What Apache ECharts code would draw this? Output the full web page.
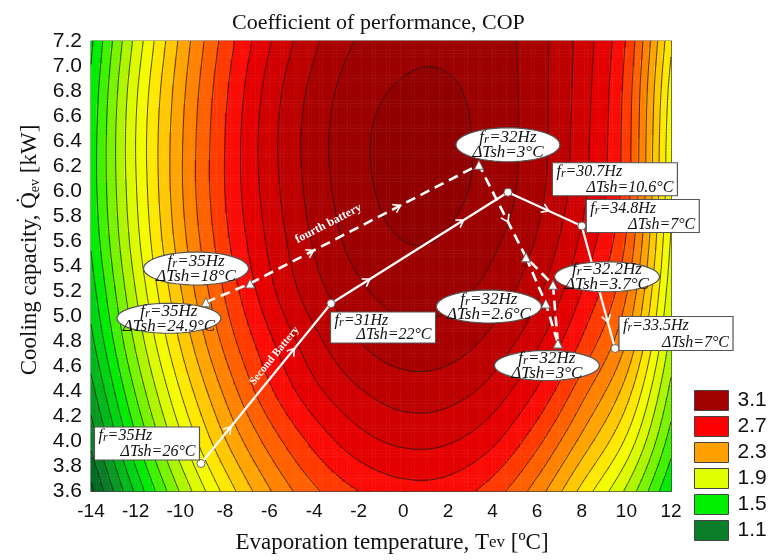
<!DOCTYPE html>
<html><head><meta charset="utf-8">
<script src="https://cdn.jsdelivr.net/npm/echarts@6/dist/echarts.min.js"></script>
<style>html,body{margin:0;padding:0;background:#fff}#c{width:774px;height:560px}</style>
</head><body><div id="c"></div>
<script>
// ---------------- DATA ----------------
// COP surface sampled on a coarse grid: evaporation temperature (°C) x cooling capacity (kW)
var tNodes = [-14,-12,-10,-8,-6,-4,-2,0,2,4,6,8,10,12];
var qNodes = [3.6,4.0,4.4,4.8,5.2,5.6,6.0,6.4,6.8,7.2];
var copQ36 = [0.97,1.42,1.81,2.13,2.39,2.58,2.70,2.76,2.75,2.65,2.45,2.17,1.88,1.50];
var copQ40 = [1.13,1.58,1.97,2.29,2.54,2.73,2.86,2.92,2.91,2.82,2.63,2.37,2.08,1.65];
var copQ44 = [1.26,1.71,2.10,2.42,2.68,2.87,2.99,3.05,3.04,2.96,2.79,2.54,2.25,1.77];
var copQ48 = [1.37,1.82,2.21,2.53,2.78,2.97,3.10,3.16,3.15,3.07,2.92,2.69,2.40,1.87];
var copQ52 = [1.45,1.90,2.29,2.61,2.87,3.06,3.18,3.24,3.23,3.16,3.02,2.80,2.51,1.94];
var copQ56 = [1.51,1.96,2.35,2.67,2.92,3.11,3.24,3.30,3.29,3.22,3.09,2.88,2.59,1.99];
var copQ60 = [1.54,1.99,2.38,2.70,2.95,3.14,3.27,3.33,3.32,3.26,3.13,2.93,2.64,2.02];
var copQ64 = [1.54,2.00,2.38,2.70,2.96,3.15,3.28,3.33,3.33,3.26,3.14,2.94,2.65,2.03];
var copQ68 = [1.52,1.98,2.36,2.68,2.94,3.13,3.26,3.31,3.31,3.26,3.14,2.95,2.66,2.06];
var copQ72 = [1.48,1.93,2.32,2.64,2.89,3.08,3.21,3.27,3.28,3.25,3.14,2.96,2.69,2.12];
var copRows = [copQ36,copQ40,copQ44,copQ48,copQ52,copQ56,copQ60,copQ64,copQ68,copQ72];

var contourLevels = [1.0,1.1,1.2,1.3,1.4,1.5,1.6,1.7,1.8,1.9,2.0,2.1,2.2,2.3,2.4,2.5,2.6,2.7,2.8,2.9,3.0,3.1,3.2,3.3];
var legendLevels = ['3.1','2.7','2.3','1.9','1.5','1.1'];
var xTickLabels = ['-14','-12','-10','-8','-6','-4','-2','0','2','4','6','8','10','12'];
var yTickLabels = ['3.6','3.8','4.0','4.2','4.4','4.6','4.8','5.0','5.2','5.4','5.6','5.8','6.0','6.2','6.4','6.6','6.8','7.0','7.2'];

// Second battery (solid line, circles)
var secondT   = [-9.07, -3.24, 4.69, 8.00, 9.49];
var secondQ   = [3.82, 5.10, 5.99, 5.72, 4.74];
var secondFr  = ['35','31','30.7','34.8','33.5'];
var secondTsh = ['26','22','10.6','7','7'];
// Fourth battery (dashed line, triangles)
var fourthT   = [-8.85, -6.87, 3.39, 5.50, 6.71, 6.39, 6.93];
var fourthQ   = [5.11, 5.26, 6.21, 5.47, 5.25, 5.10, 4.78];
var fourthFr  = ['35','35','32',null,'32.2','32','32'];
var fourthTsh = ['24.9','18','3',null,'3.7','2.6','3'];
var fourthPathA = [0,1,2,3,4,6];
var fourthPathB = [3,5,6];
var batteryNames = ['Second Battery','fourth battery'];

// ---------------- STYLE / LAYOUT ----------------
var legendColors = ['#a00000','#ff0000','#ffa000','#e0ff00','#00ee00','#0a7d28'];
var bandColors = ['#005c1e','#006b22','#0a7d28','#069a22','#02b81a','#00d412','#00ec00','#3ef200','#78f400','#aef600','#dcfa00','#f4fc00','#ffe800','#ffc800','#ffa400','#ff8200','#ff6000','#ff3a00','#fa0c06','#e40000','#d00000','#bc0000','#a80000','#9c0000','#900000'];
var boxLayout = [{dx:-54,dy:-20,w:105,h:33},{dx:52,dy:24,w:105,h:31},{dx:107,dy:-13,w:125,h:33},{dx:61,dy:-10,w:113,h:33},{dx:61,dy:-15,w:114,h:34}];
var ellipseLayout = [{dx:-37,dy:16,w:104,h:30},{dx:-54,dy:-15,w:105,h:33},{dx:29,dy:-20,w:104,h:34},null,{dx:54,dy:-8,w:105,h:30},{dx:-57,dy:3,w:105,h:33},{dx:-11,dy:22,w:105,h:30}];
var solidArrows = [[0,0.22],[0,0.71],[1,0.21],[1,0.74],[2,0.53],[3,0.77]];
var dashedArrows = [[1,0.27],[1,0.65],[2,0.6]];
var nameTags = [{seg:0,frac:0.63,off:11,size:11},{seg:1,frac:0.377,off:17,size:12}];

// ---------------- surface interpolation ----------------
function gv(ix, iy){
  var nx=tNodes.length, ny=qNodes.length;
  if (ix<0) return 2*gv(0,iy)-gv(1,iy);
  if (ix>nx-1) return 2*gv(nx-1,iy)-gv(nx-2,iy);
  if (iy<0) return 2*gv(ix,0)-gv(ix,1);
  if (iy>ny-1) return 2*gv(ix,ny-1)-gv(ix,ny-2);
  return copRows[iy][ix];
}
function cr(p0,p1,p2,p3,t){ return p1+0.5*t*(p2-p0+t*(2*p0-5*p1+4*p2-p3+t*(3*(p1-p2)+p3-p0))); }
function field(T,Q){
  var gx=(T-tNodes[0])/(tNodes[1]-tNodes[0]), gy=(Q-qNodes[0])/(qNodes[1]-qNodes[0]);
  var ix=Math.min(Math.max(Math.floor(gx),0),tNodes.length-2), iy=Math.min(Math.max(Math.floor(gy),0),qNodes.length-2);
  var fx=gx-ix, fy=gy-iy, cols=[];
  for (var m=-1;m<=2;m++) cols.push(cr(gv(ix-1,iy+m),gv(ix,iy+m),gv(ix+1,iy+m),gv(ix+2,iy+m),fx));
  return cr(cols[0],cols[1],cols[2],cols[3],fy);
}
var T0=tNodes[0], T1=tNodes[tNodes.length-1], Q0=qNodes[0], Q1=qNodes[qNodes.length-1];
var NT=208, NQ=144, dT=(T1-T0)/NT, dQ=(Q1-Q0)/NQ;
var catX=[], catY=[], heat=[];
for (var i=0;i<NT;i++) catX.push(String(i));
for (var j=0;j<NQ;j++) catY.push(String(j));
for (j=0;j<NQ;j++) for (i=0;i<NT;i++) heat.push([i,j,field(T0+(i+0.5)*dT, Q0+(j+0.5)*dQ)]);
var nodes=[];
for (j=0;j<=NQ;j++){ var row=[]; for (i=0;i<=NT;i++) row.push(field(T0+i*dT, Q0+j*dQ)); nodes.push(row); }
var segs=[];
contourLevels.forEach(function(L){
  for (var j=0;j<NQ;j++) for (var i=0;i<NT;i++){
    var a=nodes[j][i], b=nodes[j][i+1], c=nodes[j+1][i+1], d=nodes[j+1][i];
    var pts=[];
    function cross(v1,v2,x1,y1,x2,y2){ if((v1>L)!==(v2>L)){ var t=(L-v1)/(v2-v1); pts.push([x1+(x2-x1)*t, y1+(y2-y1)*t]); } }
    var xa=T0+i*dT, xb=T0+(i+1)*dT, ya=Q0+j*dQ, yb=Q0+(j+1)*dQ;
    cross(a,b,xa,ya,xb,ya); cross(b,c,xb,ya,xb,yb); cross(c,d,xb,yb,xa,yb); cross(d,a,xa,yb,xa,ya);
    if (pts.length>=2) segs.push({coords:[pts[0],pts[1]]});
    if (pts.length===4) segs.push({coords:[pts[2],pts[3]]});
  }
});
var pieces=[{lt:1.0,color:bandColors[0]}];
for (var k=0;k<contourLevels.length;k++){
  var p={gte:contourLevels[k],color:bandColors[k+1]};
  if (k<contourLevels.length-1) p.lt=contourLevels[k+1];
  pieces.push(p);
}

// ---------------- annotation items ----------------
var arrowItems=[];
solidArrows.forEach(function(a){ var s=a[0]; arrowItems.push([secondT[s],secondQ[s],secondT[s+1],secondQ[s+1],a[1],0,0]); });
dashedArrows.forEach(function(a){ var s0=fourthPathA[a[0]], s1=fourthPathA[a[0]+1]; arrowItems.push([fourthT[s0],fourthQ[s0],fourthT[s1],fourthQ[s1],a[1],0,0]); });
(function(){
  var s=nameTags[0].seg; arrowItems.push([secondT[s],secondQ[s],secondT[s+1],secondQ[s+1],nameTags[0].frac,1,0]);
  var f0=fourthPathA[nameTags[1].seg], f1=fourthPathA[nameTags[1].seg+1];
  arrowItems.push([fourthT[f0],fourthQ[f0],fourthT[f1],fourthQ[f1],nameTags[1].frac,1,1]);
})();
var labelItems=[];
secondT.forEach(function(t,k){ labelItems.push([t,secondQ[k],0,k]); });
fourthT.forEach(function(t,k){ if (fourthFr[k]!==null) labelItems.push([t,fourthQ[k],1,k]); });

var richTok = {
  i:{fontFamily:'Liberation Serif',fontStyle:'italic',fontSize:16,fill:'#111',color:'#111'},
  r:{fontFamily:'Liberation Serif',fontStyle:'italic',fontSize:12,fill:'#111',color:'#111',verticalAlign:'bottom'},
  e:{fontFamily:'Liberation Serif',fontStyle:'italic',fontSize:17,fill:'#111',color:'#111'},
  er:{fontFamily:'Liberation Serif',fontStyle:'italic',fontSize:13,fill:'#111',color:'#111',verticalAlign:'bottom'}
};

var seriesList = [
  {type:'heatmap', xAxisIndex:0, yAxisIndex:0, data:heat, progressive:0, silent:true, z:1, emphasis:{disabled:true}},
  {type:'lines', coordinateSystem:'cartesian2d', xAxisIndex:1, yAxisIndex:1, data:segs, large:true, largeThreshold:100, progressive:0, silent:true, z:2,
   lineStyle:{color:'#1a1a1a', width:0.9, opacity:0.85}},
  {type:'line', name:'second', xAxisIndex:1, yAxisIndex:1, z:5, silent:true,
   data: secondT.map(function(t,k){return [t,secondQ[k]];}),
   lineStyle:{color:'#fff',width:2.2}, symbol:'circle', symbolSize:8,
   itemStyle:{color:'#fff',borderColor:'#666',borderWidth:1}},
  {type:'line', name:'fourthA', xAxisIndex:1, yAxisIndex:1, z:5, silent:true,
   data: fourthPathA.map(function(k){return [fourthT[k],fourthQ[k]];}),
   lineStyle:{color:'#fff',width:2.6,type:[10,6]}, symbol:'triangle', symbolSize:9,
   itemStyle:{color:'#fff',borderColor:'#666',borderWidth:1}},
  {type:'line', name:'fourthB', xAxisIndex:1, yAxisIndex:1, z:5, silent:true,
   data: fourthPathB.map(function(k){return [fourthT[k],fourthQ[k]];}),
   lineStyle:{color:'#fff',width:2.6,type:[10,6]}, symbol:'triangle', symbolSize:9,
   itemStyle:{color:'#fff',borderColor:'#666',borderWidth:1}},
  {type:'custom', xAxisIndex:1, yAxisIndex:1, z:6, silent:true, data:arrowItems, encode:{x:[0,2],y:[1,3]},
   renderItem:function(params, api){
     var p0=api.coord([api.value(0),api.value(1)]), p1=api.coord([api.value(2),api.value(3)]);
     var f=api.value(4), kind=api.value(5), k=api.value(6);
     var dx=p1[0]-p0[0], dy=p1[1]-p0[1], len=Math.sqrt(dx*dx+dy*dy), ux=dx/len, uy=dy/len;
     var cx=p0[0]+dx*f, cy=p0[1]+dy*f;
     if (kind===0){
       var nx=-uy, ny=ux, a=5, b=4.5;
       return {type:'polyline', shape:{points:[[cx-ux*a+nx*b,cy-uy*a+ny*b],[cx+ux*2,cy+uy*2],[cx-ux*a-nx*b,cy-uy*a-ny*b]]},
               style:{stroke:'#fff',lineWidth:1.6,fill:null}};
     }
     var tag=nameTags[k];
     return {type:'text', x:cx+uy*tag.off, y:cy-ux*tag.off, rotation:Math.atan2(-dy,dx),
             style:{text:batteryNames[k], font:'bold '+tag.size+'px "Liberation Serif"', fill:'#fff', align:'center', verticalAlign:'middle'}};
   }},
  {type:'custom', xAxisIndex:1, yAxisIndex:1, z:10, silent:true, data:labelItems, encode:{x:0,y:1},
   renderItem:function(params, api){
     var p=api.coord([api.value(0),api.value(1)]);
     var kind=api.value(2), k=api.value(3);
     var L = kind===0 ? boxLayout[k] : ellipseLayout[k];
     var fr = kind===0 ? secondFr[k] : fourthFr[k];
     var tsh = kind===0 ? secondTsh[k] : fourthTsh[k];
     var cx=p[0]+L.dx, cy=p[1]+L.dy, w=L.w, h=L.h, ch=[];
     if (kind===0){
       ch.push({type:'rect', shape:{x:cx-w/2,y:cy-h/2,width:w,height:h}, style:{fill:'#fff',stroke:'#555',lineWidth:1.2}});
       ch.push({type:'text', style:{x:cx-w/2+4,y:cy-h/2+1,text:'{i|f}{r|r}{i|='+fr+'Hz}',rich:richTok,align:'left',verticalAlign:'top',font:'italic 16px "Liberation Serif"',fill:'#111'}});
       ch.push({type:'text', style:{x:cx+w/2-4,y:cy+h/2,text:'{i|\u0394Tsh='+tsh+'\u00b0C}',rich:richTok,align:'right',verticalAlign:'bottom',font:'italic 16px "Liberation Serif"',fill:'#111'}});
     } else {
       var pts=[], rx=w/2, ry=h/2;
       for (var m=0;m<48;m++){ var an=m/48*Math.PI*2; pts.push([cx+rx*Math.cos(an), cy+ry*Math.sin(an)]); }
       ch.push({type:'polygon', shape:{points:pts}, style:{fill:'#fff',stroke:'#555',lineWidth:1.2}});
       ch.push({type:'text', style:{x:cx,y:cy-7,text:'{e|f}{er|r}{e|='+fr+'Hz}',rich:richTok,align:'center',verticalAlign:'middle',font:'italic 17px "Liberation Serif"',fill:'#111'}});
       ch.push({type:'text', style:{x:cx,y:cy+8,text:'{e|\u0394Tsh='+tsh+'\u00b0C}',rich:richTok,align:'center',verticalAlign:'middle',font:'italic 17px "Liberation Serif"',fill:'#111'}});
     }
     return {type:'group', children:ch};
   }}
];
legendLevels.forEach(function(name,k){
  seriesList.push({type:'scatter', name:name, xAxisIndex:1, yAxisIndex:1, data:[], itemStyle:{color:legendColors[k], opacity:1}});
});

var tickStyle = {show:true, inside:true, length:5, lineStyle:{color:'#333'}};
var option = {
  animation:false,
  backgroundColor:'#fff',
  title:{text:'Coefficient of performance, COP', left:227, top:7,
         textStyle:{fontFamily:'Liberation Serif', fontSize:22, fontWeight:'normal', color:'#111'}},
  grid:{left:91, right:103, top:41, bottom:69, show:true, borderColor:'#555', borderWidth:1, backgroundColor:'transparent', outerBoundsMode:'none'},
  legend:{orient:'vertical', left:689, top:385, itemWidth:34, itemHeight:20, itemGap:5, icon:'rect', data:legendLevels, selectedMode:false,
          itemStyle:{borderColor:'#444', borderWidth:1, opacity:1},
          textStyle:{fontSize:21, lineHeight:20, fontFamily:'Liberation Sans', color:'#111', padding:[0,0,0,4]}},
  visualMap:{type:'piecewise', show:false, dimension:2, seriesIndex:0, pieces:pieces},
  xAxis:[
    {type:'category', data:catX, show:false, gridIndex:0},
    {type:'value', position:'bottom', min:-14, max:12, interval:2,
     name:'Evaporation temperature, {t|T}{s|ev} [\u00baC]', nameLocation:'middle', nameGap:40,
     nameTextStyle:{fontFamily:'Liberation Serif', fontSize:23, color:'#111', padding:[0,0,0,22],
       rich:{t:{fontFamily:'Liberation Serif', fontSize:23, color:'#111'}, s:{fontFamily:'Liberation Serif', fontSize:17, color:'#111'}}},
     axisLine:{show:true, lineStyle:{color:'#444'}}, axisTick:tickStyle, splitLine:{show:false},
     axisLabel:{fontFamily:'Liberation Sans', fontSize:19, color:'#111', margin:11,
       formatter:function(v){ return xTickLabels[Math.round((v+14)/2)]; }}},
    {type:'value', position:'top', min:-14, max:12, interval:2, axisLabel:{show:false},
     axisLine:{show:true, lineStyle:{color:'#444'}}, axisTick:tickStyle, splitLine:{show:false}}
  ],
  yAxis:[
    {type:'category', data:catY, show:false, gridIndex:0},
    {type:'value', position:'left', min:3.6, max:7.2, interval:0.2,
     name:'Cooling capacity, {q|Q\u0307}{s|ev} [kW]', nameLocation:'middle', nameGap:49, nameRotate:90,
     nameTextStyle:{fontFamily:'Liberation Serif', fontSize:23, color:'#111', padding:[0,0,0,32],
       rich:{q:{fontFamily:'Liberation Serif', fontSize:23, color:'#111'}, s:{fontFamily:'Liberation Serif', fontSize:14, color:'#111', verticalAlign:'bottom'}}},
     axisLine:{show:true, lineStyle:{color:'#444'}}, axisTick:tickStyle, splitLine:{show:false},
     axisLabel:{fontFamily:'Liberation Sans', fontSize:21, color:'#111', margin:9,
       formatter:function(v){ return yTickLabels[Math.round((v-3.6)/0.2)]; }}},
    {type:'value', position:'right', min:3.6, max:7.2, interval:0.2, axisLabel:{show:false},
     axisLine:{show:true, lineStyle:{color:'#444'}}, axisTick:tickStyle, splitLine:{show:false}}
  ],
  series:seriesList
};
var chart = echarts.init(document.getElementById('c'), null, {renderer:'canvas'});
chart.setOption(option);
</script>
</body></html>
